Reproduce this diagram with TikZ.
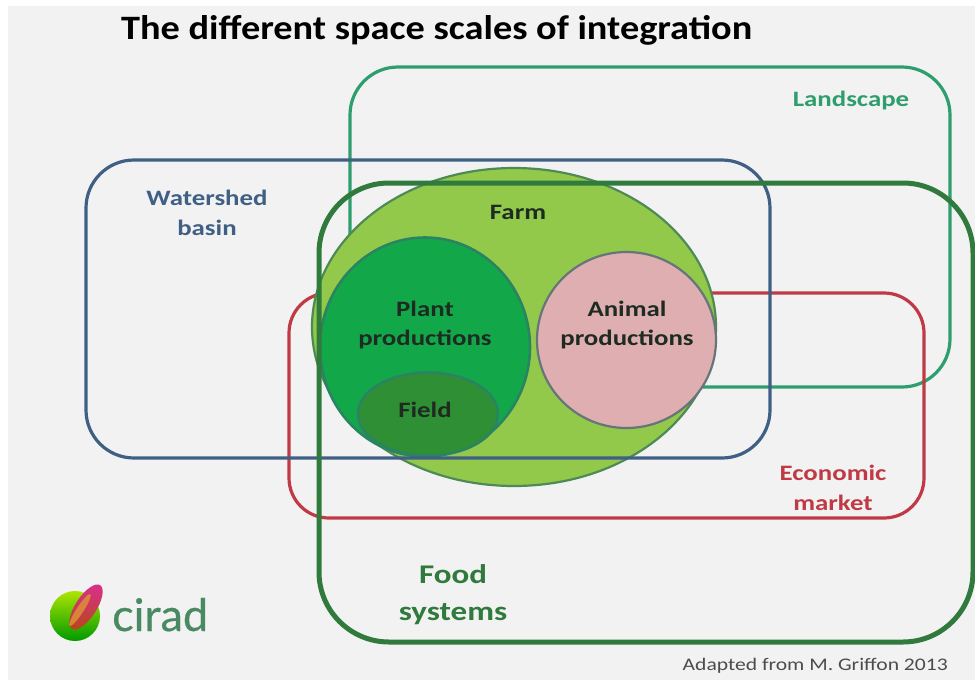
\documentclass[tikz,border=0pt]{standalone}
\usepackage{fontspec}
\setmainfont[FakeStretch=1.22]{Carlito}
\newfontfamily\titlefont[FakeStretch=1.12]{Carlito}
\newfontfamily\logofont[FakeBold=0.5]{Lato}
\usetikzlibrary{shapes.geometric}
\definecolor{pagebg}{HTML}{F2F2F2}
\definecolor{landc}{HTML}{2E9E6E}
\definecolor{waterc}{HTML}{3F5F85}
\definecolor{marketc}{HTML}{BF3A45}
\definecolor{foodc}{HTML}{2F7A3C}
\definecolor{farmf}{HTML}{93C94A}
\definecolor{farmd}{HTML}{4E8A55}
\definecolor{plantf}{HTML}{12A84A}
\definecolor{plantd}{HTML}{2A8462}
\definecolor{fieldf}{HTML}{2F8F35}
\definecolor{animalf}{HTML}{DFAEB0}
\definecolor{animald}{HTML}{66757A}
\definecolor{inktext}{HTML}{1E2B22}
\definecolor{logotext}{HTML}{4A8A62}
\definecolor{leaftop}{HTML}{D8308A}
\definecolor{leafmid}{HTML}{C8402A}
\definecolor{leafend}{HTML}{B8461E}
\definecolor{leafside}{HTML}{E0943A}
\tikzset{
  zone/.style={draw,fill=none,line width=3.2pt},
  lbl/.style={font=\bfseries\fontsize{22}{29.5}\selectfont,align=center,inner sep=0pt},
  ink/.style={lbl,text=inktext},
}
\begin{document}
\begin{tikzpicture}[x=1pt,y=-1pt]
\useasboundingbox (0,0) rectangle (975,683);
\fill[white] (0,0) rectangle (975,683);
\fill[pagebg] (8,6) rectangle (975,680);
% zones behind the farm
\draw[zone,landc,rounded corners=48pt] (350,67) rectangle (950,387);
\draw[zone,marketc,rounded corners=40pt] (289,293) rectangle (924,518);
% farm
\node[ellipse,draw=farmd,fill=farmf,line width=2.2pt,minimum width=404pt,minimum height=318pt,inner sep=0pt] (farm) at (514,327) {};
\node[ellipse,draw=plantd,fill=plantf,line width=2.6pt,minimum width=210pt,minimum height=219pt,inner sep=0pt] (plant) at (425,347) {};
\node[ellipse,draw=plantd,fill=fieldf,line width=2.6pt,minimum width=140pt,minimum height=83pt,inner sep=0pt] (field) at (428,414) {};
\node[ellipse,draw=animald,fill=animalf,line width=2.2pt,minimum width=179pt,minimum height=176pt,inner sep=0pt] (animal) at (626.5,340) {};
% zones over the farm
\draw[zone,waterc,rounded corners=48pt] (86,160) rectangle (770,458);
\draw[zone,foodc,line width=5pt,rounded corners=70pt] (319,183) rectangle (973,642);
% texts
\node[inner sep=0pt,font=\titlefont\bfseries\fontsize{34.2}{36}\selectfont,text=black,anchor=west] (title) at (121,30) {The different space scales of integration};
\node[lbl,text=landc] (landscape) at (851,101) {Landscape};
\node[lbl,text=waterc] (watershed) at (207,213) {Watershed\\basin};
\node[ink] (farmt) at (518,212) {Farm};
\node[ink] (plantt) at (425,325) {Plant\\productions};
\node[ink] (animalt) at (627,325) {Animal\\productions};
\node[ink] (fieldt) at (425,410) {Field};
\node[lbl,text=marketc] (market) at (833,488) {Economic\\market};
\node[lbl,text=foodc,font=\bfseries\fontsize{27}{37}\selectfont] (food) at (453,595) {Food\\systems};
\node[inner sep=0pt,font=\fontsize{17.7}{20}\selectfont,text=black!70,anchor=east] (credit) at (948,666) {Adapted from M. Griffon 2013};
% logo
\shade[top color=yellow!75!green!90!black,bottom color=green!60!black] (75,616) circle (25pt);
\shade[top color=leaftop,middle color=leafmid,bottom color=leafend,rotate around={-33:(86,607)}] (86,607) ellipse (10.5pt and 26pt);
\fill[leafside,opacity=.8,rotate around={-33:(80,610)}] (80,610) ellipse (3.5pt and 19pt);
\node[inner sep=0pt,font=\logofont\fontsize{45}{48}\selectfont,text=logotext,anchor=base west] (cirad) at (112,631) {cirad};
\end{tikzpicture}
\end{document}
